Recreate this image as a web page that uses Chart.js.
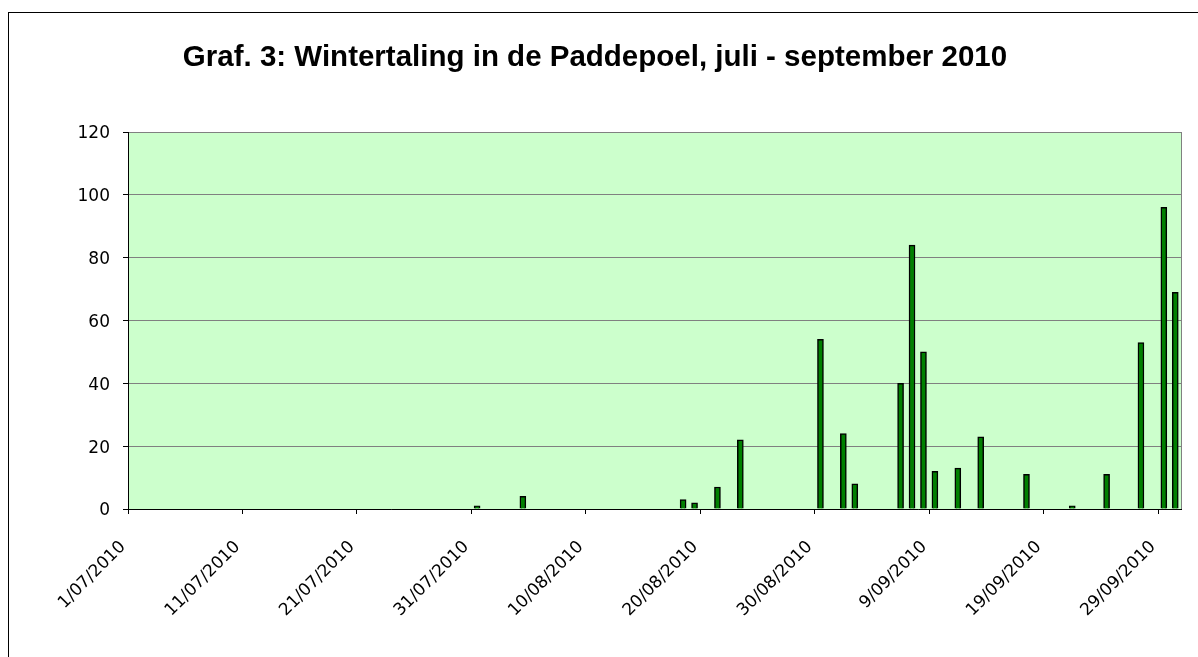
<!DOCTYPE html>
<html>
<head>
<meta charset="utf-8">
<script src="https://cdn.jsdelivr.net/npm/chart.js@4"></script>
<style>
  html, body { margin: 0; padding: 0; background: #fff; overflow: hidden; }
  #frame { position: absolute; left: 8px; top: 12px; width: 1300px; height: 700px; border: 1px solid #000; }
  #wrap { position: absolute; left: 0; top: 0; width: 1198px; height: 657px; }
</style>
</head>
<body>
<div id="frame"></div>
<div id="wrap"><canvas id="myChart"></canvas></div>
<script>
// telldagen en aantallen wintertalingen
const countDates = ['31/07/2010', '4/08/2010', '18/08/2010', '19/08/2010', '21/08/2010', '23/08/2010',
    '30/08/2010', '1/09/2010', '2/09/2010', '6/09/2010', '7/09/2010', '8/09/2010', '9/09/2010',
    '11/09/2010', '13/09/2010', '17/09/2010', '21/09/2010', '24/09/2010', '27/09/2010',
    '29/09/2010', '30/09/2010'];
const counts = [1, 4, 3, 2, 7, 22, 54, 24, 8, 40, 84, 50, 12, 13, 23, 11, 1, 11, 53, 96, 69];

// labels van de datum-as (om de 10 dagen)
const xTickLabels = ['1/07/2010', '11/07/2010', '21/07/2010', '31/07/2010', '10/08/2010',
    '20/08/2010', '30/08/2010', '9/09/2010', '19/09/2010', '29/09/2010'];
const startDate = '1/07/2010';
const endDate = '1/10/2010';

function toDay(s) {
    const p = s.split('/').map(Number);
    return Date.UTC(p[2], p[1] - 1, p[0]) / 86400000;
}
const day0 = toDay(startDate);

// elke dag is een vakje; de staaf staat midden in het vakje
const points = countDates.map((d, i) => ({ x: toDay(d) - day0 + 0.5, y: counts[i] }));

const plotBg = {
    id: 'plotBg',
    beforeDraw(chart) {
        const { ctx, chartArea: a } = chart;
        ctx.save();
        ctx.fillStyle = '#CCFFCC';
        ctx.fillRect(a.left, a.top, a.right - a.left, a.bottom - a.top);
        ctx.strokeStyle = '#808080';
        ctx.lineWidth = 1;
        ctx.strokeRect(Math.round(a.left) + 0.5, Math.round(a.top) + 0.5,
            Math.round(a.right - a.left), Math.round(a.bottom - a.top));
        ctx.restore();
    }
};

const tickFont = { family: '"DejaVu Sans", sans-serif', size: 17 };

new Chart(document.getElementById('myChart'), {
    type: 'bar',
    data: {
        datasets: [{
            data: points,
            backgroundColor: '#008000',
            borderColor: '#000000',
            borderWidth: 1.5,
            barThickness: 6
        }]
    },
    options: {
        responsive: true,
        maintainAspectRatio: false,
        animation: false,
        layout: { padding: { left: 9, right: 17, top: 0, bottom: 0 } },
        plugins: {
            legend: { display: false },
            tooltip: { enabled: false },
            title: {
                display: true,
                text: 'Graf. 3: Wintertaling in de Paddepoel, juli - september 2010',
                color: '#000',
                font: { family: '"Liberation Sans", Arial, sans-serif', size: 29.5, weight: 'bold', lineHeight: 1.2 },
                padding: { top: 39.8, bottom: 56.8 }
            }
        },
        scales: {
            x: {
                type: 'linear',
                offset: false,
                min: 0,
                max: toDay(endDate) - day0,
                afterFit(scale) {
                    scale.height = 148;
                    scale.paddingLeft = 0;
                    scale.paddingRight = 0;
                },
                grid: { display: true, drawOnChartArea: false, drawTicks: true, tickLength: 5, tickColor: '#000', offset: false },
                border: { color: '#000', width: 1 },
                ticks: {
                    stepSize: 10,
                    includeBounds: false,
                    autoSkip: false,
                    maxRotation: 45,
                    minRotation: 45,
                    color: '#000',
                    font: tickFont,
                    padding: 23,
                    labelOffset: -5,
                    callback: (v) => xTickLabels[v / 10]
                }
            },
            y: {
                min: 0,
                max: 120,
                afterFit(scale) { scale.width = 119; },
                grid: {
                    color: (c) => c.tick && c.tick.value === 0 ? 'rgba(0,0,0,0)' : '#808080',
                    tickColor: '#000',
                    tickLength: 5
                },
                border: { color: '#000', width: 1 },
                ticks: { stepSize: 20, color: '#000', font: tickFont, padding: 13, labelOffset: 2 }
            }
        }
    },
    plugins: [plotBg]
});
</script>
</body>
</html>
